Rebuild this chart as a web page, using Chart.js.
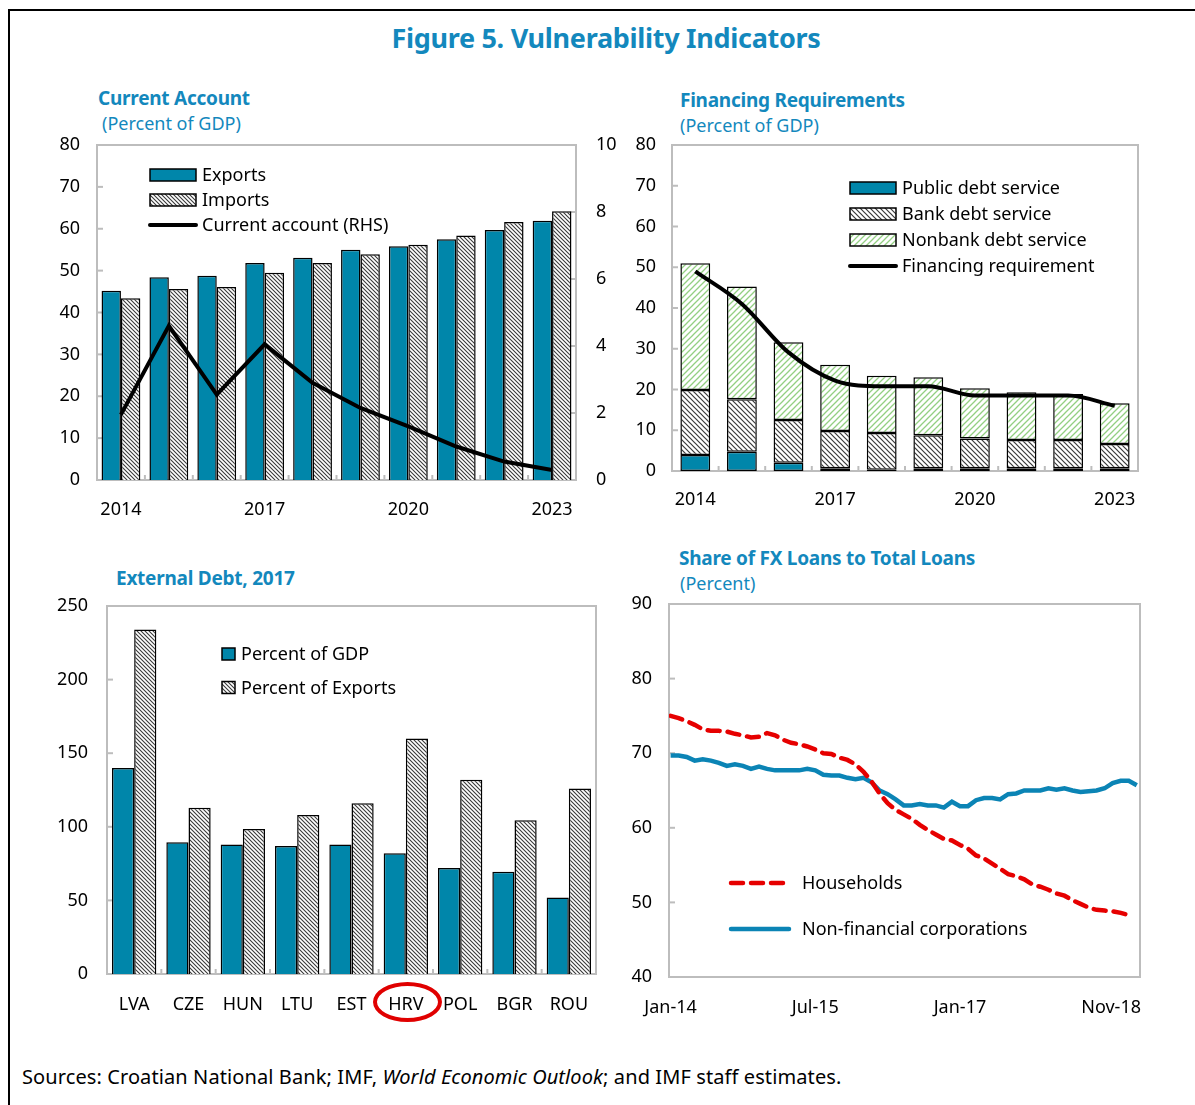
<!DOCTYPE html>
<html>
<head>
<meta charset="utf-8">
<script src="https://cdn.jsdelivr.net/npm/chart.js@4.4.0/dist/chart.umd.min.js"></script>
<style>
  body { margin: 0; background: #fff; font-family: "Noto Sans", sans-serif; }
  #page { position: relative; width: 1195px; height: 1105px; overflow: hidden; }
  #frame { position: absolute; left: 8px; top: 9px; width: 1300px; height: 1200px; border: 2px solid #000; }
  canvas { position: absolute; }
  .txt { position: absolute; white-space: nowrap; line-height: 1.2; color: #1388bd; }
  .main { font-size: 27px; font-weight: 700; left: 606px; top: 22px; letter-spacing: -0.3px; transform: translateX(-50%); }
  .ptitle { font-size: 19px; font-weight: 700; letter-spacing: -0.25px; }
  .psub { font-size: 18px; }
  .src { font-size: 20px; color: #000; left: 22px; top: 1065px; letter-spacing: 0.1px; }
  #hrv { position: absolute; left: 373px; top: 982px; width: 61px; height: 32px; border: 4px solid #e00000; border-radius: 50%; }
</style>
</head>
<body>
<div id="page">
  <div id="frame"></div>
  <div class="txt main">Figure 5. Vulnerability Indicators</div>

  <div class="txt ptitle" style="left:98px; top:87px;">Current Account</div>
  <div class="txt psub" style="left:102px; top:113px;">(Percent of GDP)</div>
  <div class="txt ptitle" style="left:680px; top:89px;">Financing Requirements</div>
  <div class="txt psub" style="left:680px; top:115px;">(Percent of GDP)</div>
  <div class="txt ptitle" style="left:116px; top:567px;">External Debt, 2017</div>
  <div class="txt ptitle" style="left:679px; top:547px;">Share of FX Loans to Total Loans</div>
  <div class="txt psub" style="left:680px; top:573px;">(Percent)</div>

  <canvas id="caChart" width="610" height="422" style="left:20px; top:113px;"></canvas>
  <canvas id="finChart" width="575" height="412" style="left:615px; top:113px;"></canvas>
  <canvas id="debtChart" width="600" height="456" style="left:20px; top:574px;"></canvas>
  <canvas id="fxChart" width="575" height="466" style="left:615px; top:572px;"></canvas>

  <div id="hrv"></div>
  <div class="txt src">Sources: Croatian National Bank; IMF, <i>World Economic Outlook</i>; and IMF staff estimates.</div>
</div>

<script>
// --- Current account (percent of GDP) ---
const years = ["2014", "2015", "2016", "2017", "2018", "2019", "2020", "2021", "2022", "2023"];
const exportsGdp = [45.2, 48.4, 48.8, 51.8, 53.1, 55.0, 55.8, 57.5, 59.7, 61.9];
const importsGdp = [43.4, 45.6, 46.1, 49.5, 51.8, 53.9, 56.2, 58.4, 61.6, 64.2];
const currentAccount = [1.95, 4.6, 2.55, 4.05, 2.9, 2.15, 1.6, 1.0, 0.55, 0.3];

// --- Financing requirements (percent of GDP) ---
const publicDebt = [3.9, 4.7, 2.0, 0.7, 0.3, 0.7, 0.7, 0.7, 0.7, 0.7];
const bankDebt = [16.0, 12.9, 10.5, 9.1, 9.0, 8.1, 7.3, 6.9, 6.9, 5.9];
const nonbankDebt = [31.1, 27.7, 19.1, 16.3, 14.1, 14.2, 12.3, 11.7, 11.3, 10.0];
const financingReq = [49.0, 41.0, 29.1, 22.2, 20.8, 20.8, 18.5, 18.5, 18.5, 16.0];

// --- External debt, 2017 ---
const countries = ["LVA", "CZE", "HUN", "LTU", "EST", "HRV", "POL", "BGR", "ROU"];
const debtGdp = [140, 89.5, 88, 87, 88, 82, 72, 69.5, 52];
const debtExports = [234, 113, 98.5, 108, 116, 160, 132, 104.5, 126];

// --- Share of FX loans (percent), monthly Jan-14 .. Nov-18 ---
const monthNames = ["Jan", "Feb", "Mar", "Apr", "May", "Jun", "Jul", "Aug", "Sep", "Oct", "Nov", "Dec"];
const monthTicks = [0, 18, 36, 58];
const households = [75.0, 74.7, 74.3, 73.8, 73.2, 73.0, 73.0, 72.9, 72.6, 72.4,
  72.1, 72.2, 72.7, 72.4, 71.8, 71.4, 71.2, 70.9, 70.5, 70.0,
  69.9, 69.4, 69.1, 68.5, 67.5, 66.2, 64.6, 63.3, 62.4, 61.8,
  61.2, 60.4, 59.7, 59.1, 58.5, 58.3, 57.7, 57.2, 56.3, 55.9,
  55.2, 54.5, 53.8, 53.5, 53.1, 52.4, 52.1, 51.7, 51.2, 50.9,
  50.3, 49.8, 49.3, 49.0, 48.9, 48.8, 48.6, 48.3, null];
const corporations = [69.7, 69.7, 69.5, 69.0, 69.2, 69.0, 68.7, 68.3, 68.5, 68.3,
  67.9, 68.2, 67.9, 67.7, 67.7, 67.7, 67.7, 67.9, 67.7, 67.1,
  67.0, 67.0, 66.7, 66.5, 66.7, 66.1, 65.0, 64.5, 63.8, 63.0,
  63.0, 63.2, 63.0, 63.0, 62.7, 63.5, 62.9, 62.9, 63.7, 64.0,
  64.0, 63.8, 64.5, 64.6, 65.0, 65.0, 65.0, 65.3, 65.1, 65.3,
  65.0, 64.8, 64.9, 65.0, 65.3, 66.0, 66.3, 66.3, 65.7];

const months = corporations.map((v, i) =>
  monthNames[i % 12] + "-" + String(14 + Math.floor(i / 12)));

const TEAL = "#0086aa";
const FRAME = "#bdbdbd";

Chart.defaults.font.family = '"Noto Sans", sans-serif';
Chart.defaults.font.size = 18;
Chart.defaults.color = "#000";
Chart.defaults.animation = false;
Chart.defaults.responsive = false;
Chart.defaults.devicePixelRatio = 1;
Chart.defaults.plugins.legend.display = false;
Chart.defaults.plugins.tooltip.enabled = false;

// diagonal hatch fill, "\" or "/"
function hatch(color, dir, size, lw) {
  const c = document.createElement("canvas");
  c.width = c.height = size;
  const g = c.getContext("2d");
  g.fillStyle = "#fff";
  g.fillRect(0, 0, size, size);
  g.strokeStyle = color;
  g.lineWidth = lw;
  g.beginPath();
  if (dir === "\\") {
    g.moveTo(-1, -1); g.lineTo(size + 1, size + 1);
    g.moveTo(-1, size - 1); g.lineTo(1, size + 1);
    g.moveTo(size - 1, -1); g.lineTo(size + 1, 1);
  } else {
    g.moveTo(-1, size + 1); g.lineTo(size + 1, -1);
    g.moveTo(-1, 1); g.lineTo(1, -1);
    g.moveTo(size - 1, size + 1); g.lineTo(size + 1, size - 1);
  }
  g.stroke();
  return g.createPattern(c, "repeat");
}

// gray plot frame plus short inward tick marks
const frameTicks = {
  id: "frameTicks",
  beforeDatasetsDraw(chart, args, opts) {
    const { ctx, chartArea: a, scales } = chart;
    ctx.save();
    ctx.strokeStyle = FRAME;
    ctx.lineWidth = 2;
    (opts.yAxes || []).forEach((id) => {
      const s = scales[id];
      const x0 = s.position === "left" ? a.left : a.right;
      const dir = s.position === "left" ? 1 : -1;
      s.ticks.forEach((t) => {
        const py = s.getPixelForValue(t.value);
        ctx.beginPath();
        ctx.moveTo(x0, py);
        ctx.lineTo(x0 + dir * 6, py);
        ctx.stroke();
      });
    });
    if (opts.xBounds) {
      const n = chart.data.labels.length;
      for (let i = 1; i < n; i++) {
        const x = a.left + (i * a.width) / n;
        ctx.beginPath();
        ctx.moveTo(x, a.bottom);
        ctx.lineTo(x, a.bottom - 5);
        ctx.stroke();
      }
    }
    ctx.strokeRect(a.left, a.top, a.width, a.height);
    ctx.restore();
  }
};

// legend drawn inside the plot area
const insetLegend = {
  id: "insetLegend",
  afterDatasetsDraw(chart, args, o) {
    if (!o.rows) return;
    const { ctx, chartArea: a } = chart;
    ctx.save();
    ctx.font = '18px "Noto Sans", sans-serif';
    ctx.textBaseline = "middle";
    o.rows.forEach((idx, i) => {
      const ds = chart.data.datasets[idx];
      const x = a.left + o.x;
      const y = a.top + o.y + i * o.gap;
      if ((ds.type || chart.config.type) === "line") {
        ctx.strokeStyle = ds.borderColor;
        ctx.lineWidth = ds.borderWidth;
        ctx.setLineDash(ds.borderDash || []);
        ctx.lineCap = "round";
        ctx.beginPath();
        ctx.moveTo(x, y);
        ctx.lineTo(x + o.w, y);
        ctx.stroke();
        ctx.setLineDash([]);
      } else {
        ctx.fillStyle = ds.backgroundColor;
        ctx.fillRect(x, y - o.h / 2, o.w, o.h);
        ctx.strokeStyle = "#000";
        ctx.lineWidth = 1.5;
        ctx.strokeRect(x, y - o.h / 2, o.w, o.h);
      }
      ctx.fillStyle = "#000";
      ctx.fillText(ds.label, x + o.w + o.pad, y + 1);
    });
    ctx.restore();
  }
};

// last month label sits flush with the right edge of the plot
const endLabel = {
  id: "endLabel",
  afterDraw(chart, args, o) {
    if (!o.text) return;
    const { ctx, chartArea: a } = chart;
    ctx.save();
    ctx.font = '18px "Noto Sans", sans-serif';
    ctx.fillStyle = "#000";
    ctx.textAlign = "right";
    ctx.textBaseline = "middle";
    ctx.fillText(o.text, a.right + 1, a.bottom + o.dy);
    ctx.restore();
  }
};

Chart.register(frameTicks, insetLegend, endLabel);

function axis(extra) {
  return Object.assign({
    grid: { display: false, drawTicks: false },
    border: { display: false }
  }, extra);
}

const everyThird = (v, i) => (i % 3 === 0 ? years[i] : "");

// --- Current account ---
new Chart(document.getElementById("caChart"), {
  type: "bar",
  data: {
    labels: years,
    datasets: [
      { label: "Exports", data: exportsGdp, backgroundColor: TEAL, borderColor: "#000",
        borderWidth: 1.5, categoryPercentage: 0.81, barPercentage: 1, order: 1 },
      { label: "Imports", data: importsGdp, backgroundColor: hatch("#3a3a3a", "\\", 4, 1.1), borderColor: "#000",
        borderWidth: 1.5, categoryPercentage: 0.81, barPercentage: 1, order: 1 },
      { type: "line", label: "Current account (RHS)", data: currentAccount, yAxisID: "y2",
        borderColor: "#000", borderWidth: 4, pointRadius: 0, tension: 0, order: 0 }
    ]
  },
  options: {
    layout: { padding: { top: 32 } },
    scales: {
      x: axis({ ticks: { autoSkip: false, maxRotation: 0, padding: 19, callback: everyThird },
        afterFit: (s) => { s.height = 55; } }),
      y: axis({ position: "left", min: 0, max: 80, ticks: { stepSize: 10, padding: 17 },
        afterFit: (s) => { s.width = 77; } }),
      y2: axis({ position: "right", min: 0, max: 10, ticks: { stepSize: 2, padding: 20 },
        afterFit: (s) => { s.width = 54; } })
    },
    plugins: {
      frameTicks: { yAxes: ["y", "y2"], xBounds: true },
      insetLegend: { rows: [0, 1, 2], x: 53, y: 30, gap: 25, w: 46, h: 12, pad: 6 }
    }
  }
});

// --- Financing requirements ---
new Chart(document.getElementById("finChart"), {
  type: "bar",
  data: {
    labels: years,
    datasets: [
      { label: "Public debt service", data: publicDebt, backgroundColor: TEAL, borderColor: "#000",
        borderWidth: 1.5, stack: "debt", order: 1 },
      { label: "Bank debt service", data: bankDebt, backgroundColor: hatch("#3a3a3a", "\\", 5, 1.2), borderColor: "#000",
        borderWidth: 1.5, stack: "debt", order: 1 },
      { label: "Nonbank debt service", data: nonbankDebt, backgroundColor: hatch("#93cf82", "/", 6, 1.3), borderColor: "#000",
        borderWidth: 1.5, stack: "debt", order: 1 },
      { type: "line", label: "Financing requirement", data: financingReq, stack: "line",
        borderColor: "#000", borderWidth: 4, pointRadius: 0, cubicInterpolationMode: "monotone", order: 0 }
    ]
  },
  options: {
    layout: { padding: { top: 32, right: 52 } },
    datasets: { bar: { categoryPercentage: 1, barPercentage: 0.64, borderSkipped: false } },
    scales: {
      x: axis({ stacked: true, ticks: { autoSkip: false, maxRotation: 0, padding: 18, callback: everyThird },
        afterFit: (s) => { s.height = 54; } }),
      y: axis({ stacked: true, min: 0, max: 80, ticks: { stepSize: 10, padding: 16 },
        afterFit: (s) => { s.width = 57; } })
    },
    plugins: {
      frameTicks: { yAxes: ["y"], xBounds: true },
      insetLegend: { rows: [0, 1, 2, 3], x: 178, y: 43, gap: 26, w: 46, h: 12, pad: 6 }
    }
  }
});

// --- External debt, 2017 ---
new Chart(document.getElementById("debtChart"), {
  type: "bar",
  data: {
    labels: countries,
    datasets: [
      { label: "Percent of GDP", data: debtGdp, backgroundColor: TEAL, borderColor: "#000", borderWidth: 1.5 },
      { label: "Percent of Exports", data: debtExports, backgroundColor: hatch("#3a3a3a", "\\", 4, 1.1),
        borderColor: "#000", borderWidth: 1.5 }
    ]
  },
  options: {
    layout: { padding: { top: 32, right: 24 } },
    datasets: { bar: { categoryPercentage: 0.816, barPercentage: 1 } },
    scales: {
      x: axis({ ticks: { autoSkip: false, maxRotation: 0, padding: 20 },
        afterFit: (s) => { s.height = 56; } }),
      y: axis({ min: 0, max: 250, ticks: { stepSize: 50, padding: 19 },
        afterFit: (s) => { s.width = 87; } })
    },
    plugins: {
      frameTicks: { yAxes: ["y"], xBounds: true },
      insetLegend: { rows: [0, 1], x: 115, y: 48, gap: 33.5, w: 13, h: 12, pad: 6 }
    }
  }
});

// --- Share of FX loans ---
new Chart(document.getElementById("fxChart"), {
  type: "line",
  data: {
    datasets: [
      { label: "Households", data: households.map((v, i) => ({ x: i, y: v })),
        borderColor: "#e60000", borderWidth: 4.5, borderDash: [12, 8], borderCapStyle: "round",
        pointRadius: 0, tension: 0, spanGaps: false },
      { label: "Non-financial corporations", data: corporations.map((v, i) => ({ x: i, y: v })),
        borderColor: "#0b84b5", borderWidth: 4.5, pointRadius: 0, tension: 0 }
    ]
  },
  options: {
    layout: { padding: { top: 32, right: 50 } },
    scales: {
      x: axis({ type: "linear", min: -0.2, max: 58.4,
        afterBuildTicks: (s) => { s.ticks = monthTicks.map((v) => ({ value: v })); },
        ticks: { autoSkip: false, maxRotation: 0, padding: 20,
          callback: (v) => (v === months.length - 1 ? "" : months[v]) },
        afterFit: (s) => { s.height = 61; } }),
      y: axis({ min: 40, max: 90, ticks: { stepSize: 10, padding: 17 },
        afterFit: (s) => { s.width = 54; } })
    },
    plugins: {
      frameTicks: { yAxes: ["y"] },
      insetLegend: { rows: [0, 1], x: 62, y: 279, gap: 46, w: 58, h: 0, pad: 13 },
      endLabel: { text: months[months.length - 1], dy: 31 }
    }
  }
});
</script>
</body>
</html>
